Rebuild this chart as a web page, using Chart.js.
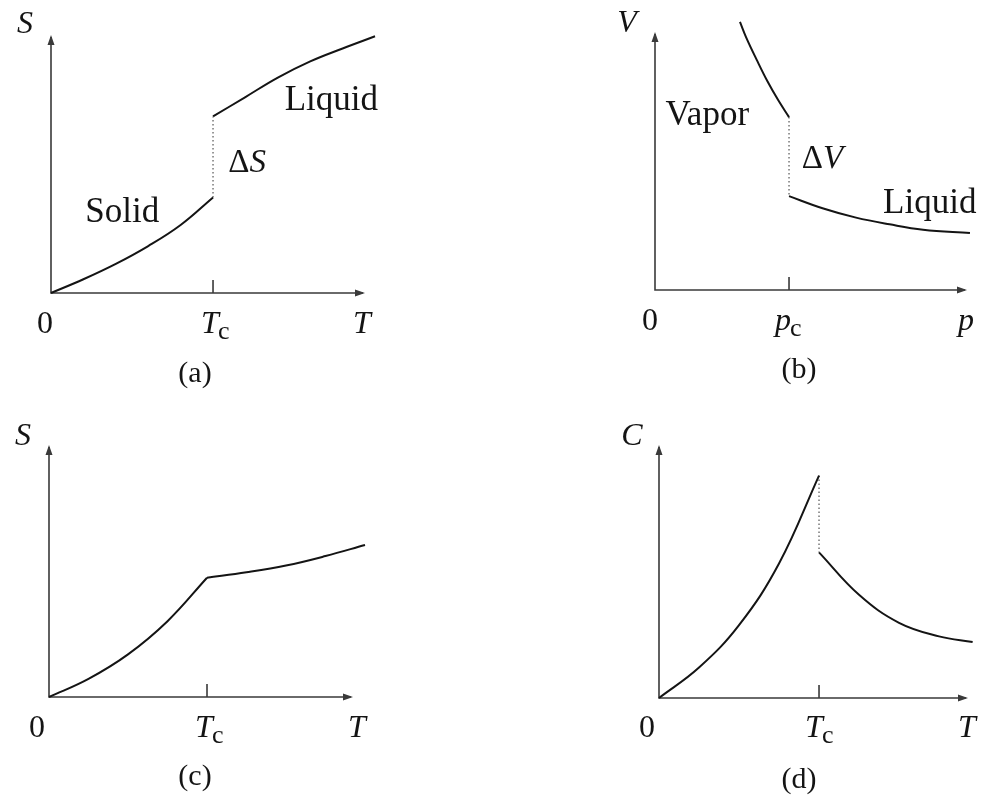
<!DOCTYPE html>
<html>
<head>
<meta charset="utf-8">
<title>Phase transitions</title>
<script src="https://cdn.jsdelivr.net/npm/chart.js@4.4.0/dist/chart.umd.min.js"></script>
<style>
  html, body { margin: 0; padding: 0; background: #fff; }
  #page { position: relative; width: 983px; height: 796px; overflow: hidden; }
  #page canvas { position: absolute; }
</style>
</head>
<body>
<div id="page">
  <canvas id="panelA" width="490" height="398" style="left:0;top:0"></canvas>
  <canvas id="panelB" width="493" height="398" style="left:490px;top:0"></canvas>
  <canvas id="panelC" width="490" height="398" style="left:0;top:398px"></canvas>
  <canvas id="panelD" width="493" height="398" style="left:490px;top:398px"></canvas>
</div>
<script>
// (a) entropy, first-order transition (T in units of Tc)
const solidT = [0, 0.2, 0.4, 0.6, 0.8, 1.0];
const solidS = [0, 0.085, 0.18, 0.29, 0.42, 0.59];
const liquidT = [1.0, 1.2, 1.4, 1.6, 1.8, 2.0];
const liquidS = [1.09, 1.21, 1.33, 1.43, 1.51, 1.585];

// (b) volume vs pressure (p in units of pc)
const vaporP = [0.634, 0.68, 0.76, 0.84, 0.92, 1.0];
const vaporV = [2.0, 1.885, 1.715, 1.555, 1.415, 1.29];
const liqP = [1.0, 1.25, 1.5, 1.75, 2.0, 2.35];
const liqV = [0.70, 0.61, 0.54, 0.49, 0.45, 0.425];

// (c) entropy, continuous transition
const lowT = [0, 0.25, 0.5, 0.75, 1.0];
const lowS = [0, 0.115, 0.27, 0.48, 0.755];
const highT = [1.0, 1.25, 1.5, 1.75, 2.0];
const highS = [0.755, 0.789, 0.832, 0.892, 0.962];

// (d) heat capacity
const coldT = [0, 0.25, 0.5, 0.75, 1.0];
const coldC = [0, 0.19, 0.455, 0.84, 1.39];
const hotT = [1.0, 1.25, 1.5, 1.75, 1.96];
const hotC = [0.91, 0.645, 0.47, 0.385, 0.35];

const SERIF = '"Liberation Serif", "Times New Roman", serif';
const INK = '#141414';
const AXIS = '#3a3a3a';

function pts(xs, ys) {
    return xs.map((x, i) => ({ x: x, y: ys[i] }));
}

function curve(xs, ys) {
    return {
        data: pts(xs, ys),
        borderColor: INK,
        borderWidth: 2,
        pointRadius: 0,
        fill: false,
        tension: 0.4,
        clip: false
    };
}

// dotted jump between the end of one branch and the start of the next
function jump(xs1, ys1, xs2, ys2) {
    return {
        data: [
            { x: xs1[xs1.length - 1], y: ys1[ys1.length - 1] },
            { x: xs2[0], y: ys2[0] }
        ],
        borderColor: '#555',
        borderWidth: 1.2,
        borderDash: [1.5, 2.5],
        pointRadius: 0,
        fill: false,
        clip: false
    };
}

// label with an italic symbol and an upright subscript, symbol centred on cx
function symbolText(ctx, main, sub, cx, base) {
    ctx.textAlign = 'center';
    ctx.textBaseline = 'alphabetic';
    ctx.font = 'italic 32px ' + SERIF;
    const w = ctx.measureText(main).width;
    ctx.fillText(main, cx, base);
    if (sub) {
        ctx.textAlign = 'left';
        ctx.font = '26px ' + SERIF;
        ctx.fillText(sub, cx + w / 2 - 1, base + 6);
    }
}

function plainText(ctx, txt, cx, base, size) {
    ctx.textAlign = 'center';
    ctx.textBaseline = 'alphabetic';
    ctx.font = size + 'px ' + SERIF;
    ctx.fillText(txt, cx, base);
}

// axes with arrowheads, Tc tick and all the text
function framePlugin(p) {
    return {
        id: 'frame',
        beforeDatasetsDraw(chart) {
            const ctx = chart.ctx;
            const a = chart.chartArea;
            const tx = chart.scales.x.getPixelForValue(p.tick);
            ctx.save();
            ctx.strokeStyle = AXIS;
            ctx.fillStyle = AXIS;
            ctx.lineWidth = 1.6;
            ctx.beginPath();
            ctx.moveTo(a.left, a.top + 2);
            ctx.lineTo(a.left, a.bottom);
            ctx.lineTo(a.right - 2, a.bottom);
            ctx.moveTo(tx, a.bottom);
            ctx.lineTo(tx, a.bottom - 13);
            ctx.stroke();
            // arrowheads
            ctx.beginPath();
            ctx.moveTo(a.left, a.top);
            ctx.lineTo(a.left - 3.5, a.top + 10);
            ctx.lineTo(a.left + 3.5, a.top + 10);
            ctx.closePath();
            ctx.moveTo(a.right, a.bottom);
            ctx.lineTo(a.right - 10, a.bottom - 3.5);
            ctx.lineTo(a.right - 10, a.bottom + 3.5);
            ctx.closePath();
            ctx.fill();
            ctx.restore();
        },
        afterDatasetsDraw(chart) {
            const ctx = chart.ctx;
            const a = chart.chartArea;
            const sx = chart.scales.x;
            const sy = chart.scales.y;
            const tx = sx.getPixelForValue(p.tick);
            const base = a.bottom + p.tickGap;
            ctx.save();
            ctx.fillStyle = INK;
            symbolText(ctx, p.yName, '', a.left + p.yNameDx, a.top + p.yNameDy);
            plainText(ctx, '0', a.left + p.zeroDx, base, 32);
            symbolText(ctx, p.tickName, 'c', tx + p.tickDx, base);
            symbolText(ctx, p.xName, '', a.right + p.xNameDx, base);
            plainText(ctx, p.caption, p.captionX, a.bottom + p.captionGap, 30);
            p.notes.forEach(n => {
                const nx = sx.getPixelForValue(n.x);
                const ny = sy.getPixelForValue(n.y);
                if (n.delta) {
                    ctx.textAlign = 'left';
                    ctx.font = '33px ' + SERIF;
                    const dw = ctx.measureText('\u0394').width;
                    ctx.font = 'italic 33px ' + SERIF;
                    const sw = ctx.measureText(n.text).width;
                    const x0 = nx - (dw + sw) / 2;
                    ctx.font = '33px ' + SERIF;
                    ctx.fillText('\u0394', x0, ny);
                    ctx.font = 'italic 33px ' + SERIF;
                    ctx.fillText(n.text, x0 + dw, ny);
                } else {
                    plainText(ctx, n.text, nx, ny, 35);
                }
            });
            ctx.restore();
        }
    };
}

function makePanel(id, p, datasets) {
    return new Chart(document.getElementById(id), {
        type: 'line',
        data: { datasets: datasets },
        options: {
            responsive: false,
            animation: false,
            devicePixelRatio: 1,
            events: [],
            layout: { padding: p.padding },
            elements: { line: { capBezierPoints: false } },
            plugins: { legend: { display: false }, tooltip: { enabled: false } },
            scales: {
                x: { type: 'linear', display: false, min: 0, max: p.xEnd },
                y: { type: 'linear', display: false, min: 0, max: p.yEnd }
            }
        },
        plugins: [framePlugin(p)]
    });
}

makePanel('panelA', {
    padding: { left: 51, top: 35, right: 125, bottom: 105 },
    xEnd: 1.938, yEnd: 1.593, tick: 1,
    yName: 'S', yNameDx: -26, yNameDy: -2,
    xName: 'T', xNameDx: -3, tickName: 'T', tickDx: -3,
    zeroDx: -6, tickGap: 40,
    caption: '(a)', captionX: 195, captionGap: 89,
    notes: [
        { text: 'Solid', x: 0.44, y: 0.44 },
        { text: 'Liquid', x: 1.73, y: 1.13 },
        { text: 'S', x: 1.21, y: 0.75, delta: true }
    ]
}, [
    curve(solidT, solidS),
    jump(solidT, solidS, liquidT, liquidS),
    curve(liquidT, liquidS)
]);

makePanel('panelB', {
    padding: { left: 165, top: 32, right: 16, bottom: 108 },
    xEnd: 2.328, yEnd: 1.925, tick: 1,
    yName: 'V', yNameDx: -28, yNameDy: 0,
    xName: 'p', xNameDx: -1, tickName: 'p', tickDx: -6,
    zeroDx: -5, tickGap: 40,
    caption: '(b)', captionX: 309, captionGap: 88,
    notes: [
        { text: 'Vapor', x: 0.39, y: 1.23 },
        { text: 'Liquid', x: 2.05, y: 0.575 },
        { text: 'V', x: 1.25, y: 0.91, delta: true }
    ]
}, [
    curve(vaporP, vaporV),
    jump(vaporP, vaporV, liqP, liqV),
    curve(liqP, liqV)
]);

makePanel('panelC', {
    padding: { left: 49, top: 47, right: 137, bottom: 99 },
    xEnd: 1.924, yEnd: 1.595, tick: 1,
    yName: 'S', yNameDx: -26, yNameDy: 0,
    xName: 'T', xNameDx: 4, tickName: 'T', tickDx: -3,
    zeroDx: -12, tickGap: 40,
    caption: '(c)', captionX: 195, captionGap: 88,
    notes: []
}, [
    curve(lowT, lowS),
    curve(highT, highS)
]);

makePanel('panelD', {
    padding: { left: 169, top: 47, right: 15, bottom: 98 },
    xEnd: 1.931, yEnd: 1.581, tick: 1,
    yName: 'C', yNameDx: -27, yNameDy: 0,
    xName: 'T', xNameDx: -1, tickName: 'T', tickDx: -5,
    zeroDx: -12, tickGap: 39,
    caption: '(d)', captionX: 309, captionGap: 90,
    notes: []
}, [
    curve(coldT, coldC),
    jump(coldT, coldC, hotT, hotC),
    curve(hotT, hotC)
]);
</script>
</body>
</html>
